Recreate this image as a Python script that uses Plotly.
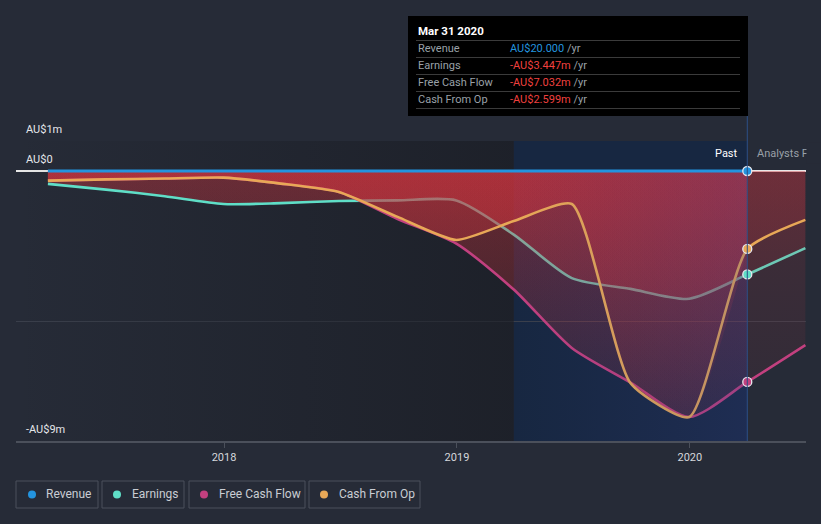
import plotly.graph_objects as go
import pandas as pd

# ---------------- data (AU$ millions) ----------------
dates = ["2017-03-31", "2017-06-30", "2017-09-30", "2017-12-31",
         "2018-03-31", "2018-06-30", "2018-09-30", "2018-12-31",
         "2019-03-31", "2019-06-30", "2019-09-30", "2019-12-31",
         "2020-03-31"]
forecast_date = "2020-06-30"

revenue = [0.0, 0.0, 0.0, 0.0, 0.0, 0.0, 0.0, 0.0, 0.0, 0.0, 0.0, 0.0, 0.00002]
earnings = [-0.43, -0.62, -0.84, -1.10, -1.07, -1.00, -0.98, -0.98,
            -2.12, -3.57, -3.93, -4.26, -3.447]
free_cash_flow = [-0.32, -0.28, -0.25, -0.22, -0.42, -0.70, -1.60, -2.42,
                  -3.95, -5.90, -7.05, -8.20, -7.032]
cash_from_op = [-0.32, -0.28, -0.25, -0.22, -0.42, -0.70, -1.53, -2.30,
                -1.67, -1.10, -7.07, -8.20, -2.599]

earnings_fc = -2.57
free_cash_flow_fc = -5.80
cash_from_op_fc = -1.63

series_names = ["Revenue", "Earnings", "Free Cash Flow", "Cash From Op"]
tooltip_values = ["AU$20.000", "-AU$3.447m", "-AU$7.032m", "-AU$2.599m"]
tooltip_date = "Mar 31 2020"
y_labels = [(1, "AU$1m"), (0, "AU$0"), (-9, "-AU$9m")]
x_tickvals = ["2018-01-01", "2019-01-01", "2020-01-01"]
x_ticktext = ["2018", "2019", "2020"]
x_range = ["2017-02-09", "2020-07-01"]
past_start = "2019-03-31"

# ---------------- style ----------------
BG = "#262b37"
C_REV = "#2394df"
C_EARN = "#5fdec7"
C_FCF = "#c2407f"
C_CFO = "#e8a857"
FONT = "Roboto"

W, H = 821, 524
L, R, T, B = 16, 806, 141, 441


def px(x):
    return (x - L) / (R - L)


def py(y):
    return (B - y) / (B - T)


def ms(d):
    return pd.Timestamp(d).value / 1e6


fig = go.Figure()

# darkening gradient on the left part of the plot
fig.add_trace(go.Scatter(
    x=[x_range[0], past_start, past_start, x_range[0], x_range[0]],
    y=[1, 1, -9, -9, 1], mode="lines", line=dict(width=0), fill="toself",
    fillcolor="rgba(20,22,28,0.2)",
    fillgradient=dict(type="horizontal", start=ms(x_range[0]), stop=ms(past_start),
                      colorscale=[[0, "rgba(22,24,30,0.0)"], [1, "rgba(22,24,30,0.55)"]]),
    hoverinfo="skip", showlegend=False))

grad_dim = dict(type="vertical", start=-9, stop=0,
                colorscale=[[0, "rgba(200,52,62,0.05)"], [1, "rgba(205,52,62,0.17)"]])
grad_past = dict(type="vertical", start=-9, stop=0,
                 colorscale=[[0, "rgba(200,52,62,0.05)"], [1, "rgba(205,52,62,0.30)"]])


def series(y, fc, color, name, smooth):
    # extra (brighter) fill for the past period
    fig.add_trace(go.Scatter(
        x=dates, y=y, mode="lines", line=dict(width=0, shape="spline", smoothing=smooth),
        fill="tozeroy", fillgradient=grad_past, fillcolor="rgba(200,52,62,0.2)",
        hoverinfo="skip", showlegend=False))
    # full line incl. forecast, with dim fill
    fig.add_trace(go.Scatter(
        x=dates + [forecast_date], y=y + [fc], mode="lines", name=name,
        line=dict(color=color, width=2.6, shape="spline", smoothing=smooth),
        fill="tozeroy", fillgradient=grad_dim, fillcolor="rgba(200,52,62,0.12)",
        hoverinfo="skip", showlegend=False))


series(earnings, earnings_fc, C_EARN, "Earnings", 0.7)
series(free_cash_flow, free_cash_flow_fc, C_FCF, "Free Cash Flow", 0.7)
series(cash_from_op, cash_from_op_fc, C_CFO, "Cash From Op", 0.55)

# purple-blue veil over the past band (below zero)
fig.add_trace(go.Scatter(
    x=[past_start, dates[-1], dates[-1], past_start, past_start],
    y=[0, 0, -9, -9, 0], mode="lines", line=dict(width=0), fill="toself",
    fillcolor="rgba(60,60,140,0.12)",
    fillgradient=dict(type="horizontal", start=ms(past_start), stop=ms(dates[-1]),
                      colorscale=[[0, "rgba(50,60,130,0.0)"], [1, "rgba(55,65,140,0.24)"]]),
    hoverinfo="skip", showlegend=False))

# revenue line (past only)
fig.add_trace(go.Scatter(x=dates, y=revenue, mode="lines",
                         line=dict(color=C_REV, width=3), hoverinfo="skip",
                         showlegend=False))

# end-point markers
for vals, col in [(revenue, C_REV), (cash_from_op, C_CFO), (earnings, C_EARN),
                  (free_cash_flow, C_FCF)]:
    fig.add_trace(go.Scatter(x=[dates[-1]], y=[vals[-1]], mode="markers",
                             marker=dict(size=9, color=col,
                                         line=dict(color="#e8e8ee", width=1.3)),
                             hoverinfo="skip", showlegend=False))

shapes = []
# past highlight band
shapes.append(dict(type="rect", xref="x", yref="y", x0=past_start, x1=dates[-1],
                   y0=-9, y1=1, fillcolor="#172741", line=dict(width=0), layer="below"))
# vertical line from tooltip to axis
shapes.append(dict(type="line", xref="x", yref="paper", x0=dates[-1], x1=dates[-1],
                   y0=0, y1=py(116), line=dict(color="#2c4f86", width=1)))
# tooltip box
shapes.append(dict(type="rect", xref="paper", yref="paper", x0=px(408), x1=px(748),
                   y0=py(116), y1=py(16), fillcolor="#000000", line=dict(width=0)))
for yy in [40.5, 57.5, 74.5, 91.5, 108.5]:
    shapes.append(dict(type="line", xref="paper", yref="paper", x0=px(416), x1=px(740),
                       y0=py(yy), y1=py(yy), line=dict(color="#3b3b3b", width=1)))

annotations = []
# y labels
for val, txt in y_labels:
    annotations.append(dict(xref="paper", yref="y", x=px(24), y=val, yshift=12,
                            text=txt, showarrow=False, xanchor="left", yanchor="middle",
                            font=dict(family=FONT, size=11, color="#e4e6ea")))
# Past / Analysts Forecasts
annotations.append(dict(xref="paper", yref="paper", x=px(740), y=py(153), text="Past",
                        showarrow=False, xanchor="right", yanchor="middle",
                        font=dict(family=FONT, size=11, color="#ffffff")))
annotations.append(dict(xref="paper", yref="paper", x=px(755), y=py(153),
                        text="Analysts Forecasts", showarrow=False, xanchor="left",
                        yanchor="middle", font=dict(family=FONT, size=11, color="#9aa0a8")))
# cover to clip the forecast label at the plot edge
annotations.append(dict(xref="paper", yref="paper", x=px(806), y=py(153), text=" ",
                        showarrow=False, xanchor="left", yanchor="middle",
                        width=40, height=20, bgcolor=BG, borderpad=0))

# tooltip text
annotations.append(dict(xref="paper", yref="paper", x=px(416), y=py(31),
                        text="<b>" + tooltip_date + "</b>", showarrow=False,
                        xanchor="left", yanchor="middle",
                        font=dict(family=FONT, size=11.5, color="#ffffff")))
row_y = [48.5, 65.5, 82.5, 99.5]
for i, (nm, v) in enumerate(zip(series_names, tooltip_values)):
    vc = C_REV if i == 0 else "#f0403f"
    annotations.append(dict(xref="paper", yref="paper", x=px(416), y=py(row_y[i]),
                            text=nm, showarrow=False, xanchor="left", yanchor="middle",
                            font=dict(family=FONT, size=11, color="#9aa0a8")))
    annotations.append(dict(xref="paper", yref="paper", x=px(508), y=py(row_y[i]),
                            text='<span style="color:%s">%s</span> /yr' % (vc, v),
                            showarrow=False, xanchor="left", yanchor="middle",
                            font=dict(family=FONT, size=11, color="#9aa0a8")))

# legend boxes
leg = [(16, 98, 32, 44, C_REV), (102, 184, 117, 130, C_EARN),
       (189, 305, 204, 217, C_FCF), (309, 420, 324, 337, C_CFO)]
for (x0, x1, dx, tx, col), nm in zip(leg, series_names):
    shapes.append(dict(type="rect", xref="paper", yref="paper", x0=px(x0), x1=px(x1),
                       y0=py(508), y1=py(481), line=dict(color="#4a505c", width=1),
                       fillcolor="rgba(0,0,0,0)"))
    shapes.append(dict(type="circle", xref="paper", yref="paper", x0=px(dx - 4),
                       x1=px(dx + 4), y0=py(498.5), y1=py(490.5),
                       fillcolor=col, line=dict(width=0)))
    annotations.append(dict(xref="paper", yref="paper", x=px(tx), y=py(494.5), text=nm,
                            showarrow=False, xanchor="left", yanchor="middle",
                            font=dict(family=FONT, size=12, color="#c9cdd3")))

fig.update_layout(
    width=W, height=H, margin=dict(l=L, r=W - R, t=T, b=H - B),
    paper_bgcolor=BG, plot_bgcolor=BG, showlegend=False,
    shapes=shapes, annotations=annotations,
    xaxis=dict(type="date", range=x_range, tickvals=x_tickvals,
               ticktext=x_ticktext, showgrid=False, zeroline=False, showline=True,
               linecolor="#4b505b", linewidth=1.5, ticks="outside", ticklen=5,
               tickcolor="#4b505b", tickfont=dict(family=FONT, size=11, color="#d5d8dc"),
               fixedrange=True),
    yaxis=dict(range=[-9, 1], tickvals=[1, -5], showticklabels=False, showgrid=True,
               gridcolor="#3a3f4b", gridwidth=1, zeroline=True, zerolinecolor="#e8e8e8",
               zerolinewidth=1.5, showline=False, fixedrange=True),
)

fig.write_html(
    "out.html",
    config={"displayModeBar": False},
    post_script="document.body.style.margin='0';document.body.style.padding='0';"
                "document.body.style.background='%s';document.body.style.overflow='hidden';" % BG,
)
